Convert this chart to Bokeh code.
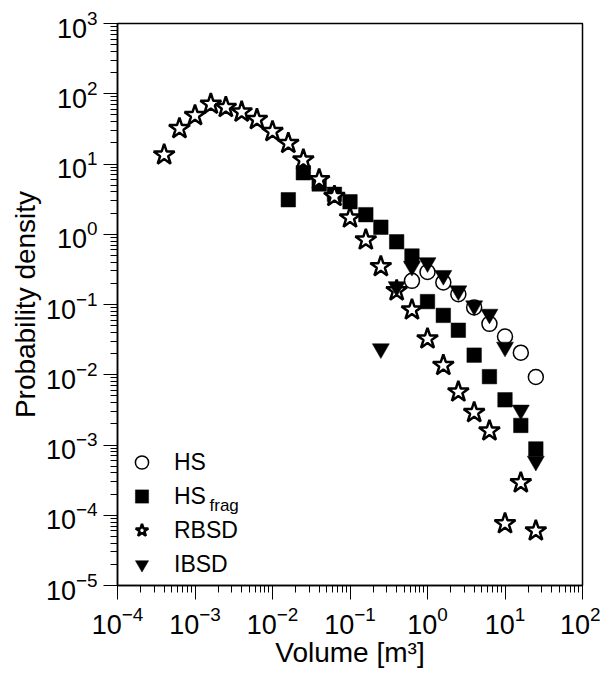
from bokeh.plotting import figure
from bokeh.models import FixedTicker, Legend, LegendItem, Label
from bokeh.embed import file_html
from bokeh.resources import INLINE

# ---- data ----
hs_x = [0.63, 1.0, 1.6, 2.5, 4.0, 6.3, 10, 16, 25]
hs_y = [0.217, 0.29, 0.206, 0.14, 0.091, 0.053, 0.035, 0.0206, 0.0093]

frag_x = [0.016, 0.025, 0.04, 0.063, 0.1, 0.16, 0.25, 0.4, 0.63, 1.0, 1.6, 2.5, 4.0, 6.3, 10, 16, 25]
frag_y = [3.1, 7.5, 5.2, 3.7, 2.9, 1.9, 1.26, 0.78, 0.49, 0.11, 0.07, 0.043, 0.019, 0.0094, 0.0044, 0.0019, 0.00088]

rbsd_x = [4e-4, 6.3e-4, 1e-3, 1.6e-3, 2.5e-3, 4e-3, 6.3e-3, 1e-2, 1.6e-2, 2.5e-2, 4e-2, 6.3e-2,
          0.1, 0.16, 0.25, 0.4, 0.63, 1.0, 1.6, 2.5, 4.0, 6.3, 10, 16, 25]
rbsd_y = [13.5, 32, 49, 71, 64, 55, 43, 29, 19.7, 11.4, 6.0, 3.46,
          1.71, 0.83, 0.347, 0.157, 0.084, 0.0325, 0.0136, 0.0057, 0.0029, 0.00159, 7.6e-5, 2.9e-4, 6.0e-5]

ibsd_x = [0.25, 0.4, 0.63, 1.0, 1.6, 2.5, 4.0, 6.3, 10, 16, 25]
ibsd_y = [0.0235, 0.18, 0.35, 0.395, 0.26, 0.157, 0.096, 0.073, 0.0248, 0.00315, 0.00059]

x_major = [1e-4, 1e-3, 1e-2, 1e-1, 1e0, 1e1, 1e2]
y_major = [1e-5, 1e-4, 1e-3, 1e-2, 1e-1, 1e0, 1e1, 1e2, 1e3]
legend_labels = ["HS", "HS", "RBSD", "IBSD"]

FONT = "Liberation Sans"

p = figure(width=600, height=670, x_axis_type="log", y_axis_type="log",
           x_range=(1e-4, 1e2), y_range=(1e-5, 1e3),
           output_backend="svg", toolbar_location=None,
           min_border_left=117, min_border_right=18, min_border_top=23, min_border_bottom=82)

p.xgrid.visible = False
p.ygrid.visible = False
p.outline_line_color = "black"
p.outline_line_width = 1.5

def minors(majors):
    out = []
    for m in majors[:-1]:
        for k in range(2, 10):
            out.append(m * k)
    return out

p.xaxis.ticker = FixedTicker(ticks=x_major, minor_ticks=minors(x_major))
p.yaxis.ticker = FixedTicker(ticks=y_major, minor_ticks=minors(y_major))

for ax in (p.xaxis[0], p.yaxis[0]):
    ax.major_tick_in = 0
    ax.major_tick_out = 14
    ax.minor_tick_in = 0
    ax.minor_tick_out = 7
    ax.axis_line_width = 1.5
    ax.axis_line_color = "black"
    ax.major_tick_line_color = "black"
    ax.minor_tick_line_color = "black"
    ax.major_label_text_font = FONT
    ax.major_label_text_font_size = "27px"
    ax.major_label_text_color = "black"
    ax.axis_label_text_font = FONT
    ax.axis_label_text_font_size = "28px"
    ax.axis_label_text_font_style = "normal"
    ax.axis_label_text_color = "black"
    ax.major_label_standoff = 6

p.xaxis.axis_label = "Volume [m³]"
p.yaxis.axis_label = "Probability density"
p.xaxis.axis_label_standoff = 0
p.yaxis.axis_label_standoff = 2

r_hs = p.scatter(hs_x, hs_y, marker="circle", size=15, fill_color=None,
                 line_color="black", line_width=1.5)
r_frag = p.scatter(frag_x, frag_y, marker="square", size=14.5, fill_color="black",
                   line_color="black", line_width=0.5)
r_rbsd = p.scatter(rbsd_x, rbsd_y, marker="star", size=22, fill_color="white",
                   line_color="black", line_width=2.5)
r_ibsd = p.scatter(ibsd_x, ibsd_y, marker="inverted_triangle", size=17, fill_color="black",
                   line_color="black", line_width=0.5)

legend = Legend(items=[LegendItem(label=legend_labels[0], renderers=[r_hs]),
                       LegendItem(label=legend_labels[1], renderers=[r_frag]),
                       LegendItem(label=legend_labels[2], renderers=[r_rbsd]),
                       LegendItem(label=legend_labels[3], renderers=[r_ibsd])],
                location=(5, 1), orientation="vertical")
legend.border_line_alpha = 0
legend.background_fill_alpha = 0
legend.label_text_font = FONT
legend.label_text_font_size = "23px"
legend.label_text_color = "black"
legend.glyph_width = 33
legend.glyph_height = 34
legend.label_height = 34
legend.label_standoff = 16
legend.spacing = 0
legend.padding = 3
legend.margin = 0
p.add_layout(legend)

p.add_layout(Label(x=92, y=80, x_units="screen", y_units="screen", text="frag",
                   text_font=FONT, text_font_size="17px", text_color="black",
                   text_baseline="alphabetic"))

open("out.html", "w").write(file_html(p, INLINE))
